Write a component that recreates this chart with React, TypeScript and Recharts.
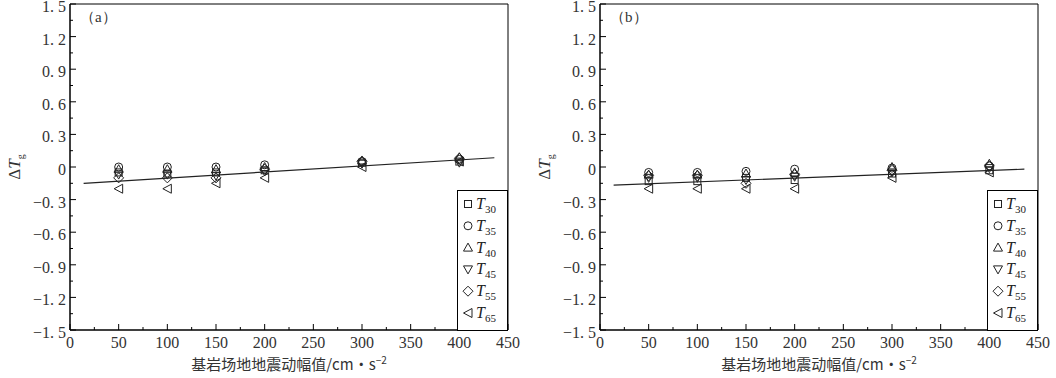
import React from 'react';
import { ScatterChart, Scatter, XAxis, YAxis, ReferenceLine, ReferenceArea, Legend, Customized } from 'recharts';

const amplitudes = [50, 100, 150, 200, 300, 400];
const seriesNames = ['30', '35', '40', '45', '55', '65'];

// panel (a)
const aT30 = [-0.05, -0.06, -0.05, -0.03, 0.04, 0.05];
const aT35 = [0.0, 0.0, 0.0, 0.02, 0.05, 0.07];
const aT40 = [-0.02, -0.02, -0.02, 0.0, 0.06, 0.09];
const aT45 = [-0.07, -0.07, -0.08, -0.04, 0.03, 0.04];
const aT55 = [-0.1, -0.1, -0.1, -0.02, 0.05, 0.08];
const aT65 = [-0.2, -0.2, -0.15, -0.1, 0.0, 0.05];
const fitA = [{ x: 14, y: -0.15 }, { x: 436, y: 0.085 }];

// panel (b)
const bT30 = [-0.13, -0.13, -0.1, -0.12, -0.06, -0.03];
const bT35 = [-0.05, -0.05, -0.04, -0.02, -0.01, 0.01];
const bT40 = [-0.07, -0.07, -0.06, -0.05, 0.0, 0.03];
const bT45 = [-0.1, -0.1, -0.12, -0.09, -0.05, -0.01];
const bT55 = [-0.08, -0.08, -0.15, -0.07, -0.03, 0.01];
const bT65 = [-0.2, -0.2, -0.2, -0.2, -0.1, -0.05];
const fitB = [{ x: 14, y: -0.166 }, { x: 436, y: -0.02 }];

const xTicks = [0, 25, 50, 75, 100, 125, 150, 175, 200, 225, 250, 275, 300, 325, 350, 375, 400, 425, 450];
const yTicks = [-1.5, -1.35, -1.2, -1.05, -0.9, -0.75, -0.6, -0.45, -0.3, -0.15, 0, 0.15, 0.3, 0.45, 0.6, 0.75, 0.9, 1.05, 1.2, 1.35, 1.5];

const INK = '#222';
const FONT = "'Liberation Serif', 'DejaVu Serif', serif";
const CJK = "'Noto Sans CJK SC', sans-serif";

type Mark = (cx: number, cy: number) => React.ReactElement;
const marks: Mark[] = [
  (cx, cy) => <rect x={cx - 3.5} y={cy - 3.5} width={7} height={7} fill="none" stroke={INK} />,
  (cx, cy) => <circle cx={cx} cy={cy} r={4} fill="none" stroke={INK} />,
  (cx, cy) => <polygon points={`${cx},${cy - 4.5} ${cx - 4.5},${cy + 3.5} ${cx + 4.5},${cy + 3.5}`} fill="none" stroke={INK} />,
  (cx, cy) => <polygon points={`${cx},${cy + 4.5} ${cx - 4.5},${cy - 3.5} ${cx + 4.5},${cy - 3.5}`} fill="none" stroke={INK} />,
  (cx, cy) => <polygon points={`${cx},${cy - 5} ${cx + 5},${cy} ${cx},${cy + 5} ${cx - 5},${cy}`} fill="none" stroke={INK} />,
  (cx, cy) => <polygon points={`${cx - 4.5},${cy} ${cx + 4},${cy - 4.5} ${cx + 4},${cy + 4.5}`} fill="none" stroke={INK} />,
];

const isMajor = (v: number, step: number) => Math.abs(v / step - Math.round(v / step)) < 1e-6;

const renderYTick = (props: any) => {
  const { x, y, payload } = props;
  const v: number = payload.value;
  const major = isMajor(v, 0.3);
  let label: React.ReactNode = null;
  if (major) {
    if (Math.abs(v) < 1e-9) {
      label = '0';
    } else {
      const s = Math.abs(v).toFixed(1).split('.');
      label = (
        <>
          <tspan>{(v < 0 ? '\u2212' : '') + s[0] + '.'}</tspan>
          <tspan dx={4}>{s[1]}</tspan>
        </>
      );
    }
  }
  return (
    <g>
      <line x1={x} x2={x + (major ? 6 : 3)} y1={y} y2={y} stroke="#000" />
      {major && (
        <text x={x - 4} y={y} dy={8} textAnchor="end" style={{ fontFamily: FONT }} fontSize={16} fill="#333">
          {label}
        </text>
      )}
    </g>
  );
};

const renderXTick = (props: any) => {
  const { x, y, payload } = props;
  const v: number = payload.value;
  const major = isMajor(v, 50);
  return (
    <g>
      <line x1={x} x2={x} y1={y} y2={y - (major ? 6 : 3)} stroke="#000" />
      {major && (
        <text x={x} y={y + 18} textAnchor="middle" style={{ fontFamily: FONT }} fontSize={16} fill="#333">
          {v}
        </text>
      )}
    </g>
  );
};

const LegendBox = () => (
  <div style={{ width: 49, height: 139, border: '1px solid #000', background: '#fff', boxSizing: 'content-box' }}>
    <svg width={49} height={139} style={{ display: 'block' }}>
      {seriesNames.map((n, i) => {
        const cy = 13 + i * 21.8;
        return (
          <g key={n}>
            {marks[i](10, cy)}
            <text x={18} y={cy + 5} style={{ fontFamily: FONT }} fontSize={16} fill="#222">
              <tspan fontStyle="italic">T</tspan>
              <tspan fontSize={11} dy={4}>{n}</tspan>
            </text>
          </g>
        );
      })}
    </svg>
  </div>
);

interface PanelProps {
  tag: string;
  series: number[][];
  fit: { x: number; y: number }[];
  width: number;
  right: number;
  legendLeft: number;
}

const Panel = ({ tag, series, fit, width, right, legendLeft }: PanelProps) => (
  <ScatterChart width={width} height={378} margin={{ top: 4, right, bottom: 0, left: 0 }}>
    <XAxis
      type="number"
      dataKey="x"
      domain={[0, 450]}
      ticks={xTicks}
      interval={0}
      height={48}
      tickSize={0}
      tickMargin={0}
      tickLine={false}
      tick={renderXTick}
      axisLine={{ stroke: '#000' }}
      label={(p: any) => {
        const vb = p.viewBox;
        return (
          <text x={vb.x + vb.width / 2} y={vb.y + 40} textAnchor="middle" style={{ fontFamily: CJK }} fontSize={15} fill="#333">
            基岩场地地震动幅值/cm•s<tspan fontSize={10} dy={-6}>−2</tspan>
          </text>
        );
      }}
    />
    <YAxis
      type="number"
      dataKey="y"
      domain={[-1.5, 1.5]}
      ticks={yTicks}
      interval={0}
      width={70}
      tickSize={0}
      tickMargin={0}
      tickLine={false}
      tick={renderYTick}
      axisLine={{ stroke: '#000' }}
      label={(p: any) => {
        const vb = p.viewBox;
        const cx = vb.x + vb.width - 55;
        const cy = vb.y + vb.height / 2;
        return (
          <text x={cx} y={cy} transform={`rotate(-90 ${cx} ${cy})`} textAnchor="middle" dy={5} style={{ fontFamily: FONT }} fontSize={17} fill="#333">
            Δ<tspan fontStyle="italic">T</tspan>
            <tspan fontSize={10} dy={4}>g</tspan>
          </text>
        );
      }}
    />
    <ReferenceArea x1={0} x2={450} y1={-1.5} y2={1.5} fill="none" stroke="#000" strokeWidth={1} />
    <ReferenceLine segment={fit} stroke={INK} strokeWidth={1.2} />
    {series.map((vals, i) => (
      <Scatter
        key={seriesNames[i]}
        name={'T' + seriesNames[i]}
        data={amplitudes.map((x, k) => ({ x, y: vals[k] }))}
        shape={(p: any) => marks[i](p.cx, p.cy)}
        isAnimationActive={false}
      />
    ))}
    <Customized
      component={() => (
        <text x={80} y={22} style={{ fontFamily: FONT }} fontSize={15} fill="#333">
          （{tag}）
        </text>
      )}
    />
    <Legend
      layout="vertical"
      align="center"
      verticalAlign="middle"
      content={() => <LegendBox />}
      wrapperStyle={{ left: legendLeft, top: 190, width: 51, height: 141 }}
    />
  </ScatterChart>
);

export default function App() {
  return (
    <div style={{ position: 'absolute', left: 0, top: 0, width: 1056, height: 378, background: '#fff' }}>
      <div style={{ position: 'absolute', left: 0, top: 0 }}>
        <Panel tag="a" series={[aT30, aT35, aT40, aT45, aT55, aT65]} fit={fitA} width={528} right={20} legendLeft={457} />
      </div>
      <div style={{ position: 'absolute', left: 530, top: 0 }}>
        <Panel tag="b" series={[bT30, bT35, bT40, bT45, bT55, bT65]} fit={fitB} width={526} right={18} legendLeft={457} />
      </div>
    </div>
  );
}
